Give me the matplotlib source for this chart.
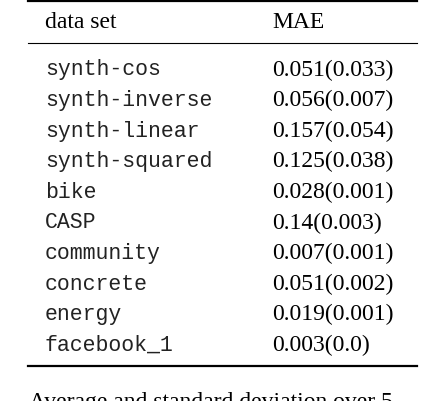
import matplotlib.pyplot as plt

datasets = ['synth-cos', 'synth-inverse', 'synth-linear', 'synth-squared', 'bike',
            'CASP', 'community', 'concrete', 'energy', 'facebook_1']
mae = ['0.051(0.033)', '0.056(0.007)', '0.157(0.054)', '0.125(0.038)', '0.028(0.001)',
       '0.14(0.003)', '0.007(0.001)', '0.051(0.002)', '0.019(0.001)', '0.003(0.0)']
header = ['data set', 'MAE']

W, H = 422, 402
fig = plt.figure(figsize=(W / 100, H / 100), dpi=100)
ax = fig.add_axes([0, 0, 1, 1])
ax.set_xlim(0, W)
ax.set_ylim(H, 0)
ax.axis('off')

serif = 'Liberation Serif'
mono = 'Liberation Mono'
x1, x2 = 45, 272

# rules
ax.plot([28, 417], [2, 2], color='black', lw=1.6)
ax.plot([28, 417], [44, 44], color='black', lw=0.8)
ax.plot([28, 417], [367, 367], color='black', lw=1.6)

ax.text(x1, 23, header[0], family=serif, fontsize=17, va='center')
ax.text(x2, 23, header[1], family=serif, fontsize=17, va='center')

y0, dy = 70, 30.6
for i, (d, m) in enumerate(zip(datasets, mae)):
    y = y0 + i * dy
    ax.text(x1, y, d, family=mono, fontsize=15.5, va='center', color='#222222')
    ax.text(x2, y, m, family=serif, fontsize=17, va='center')

# caption, cut off at the bottom edge as in the reference
ax.text(W / 2, 392, 'Average and standard deviation over 5', family=serif,
        fontsize=17, ha='center', va='top')

fig.savefig('out.png', dpi=100)
